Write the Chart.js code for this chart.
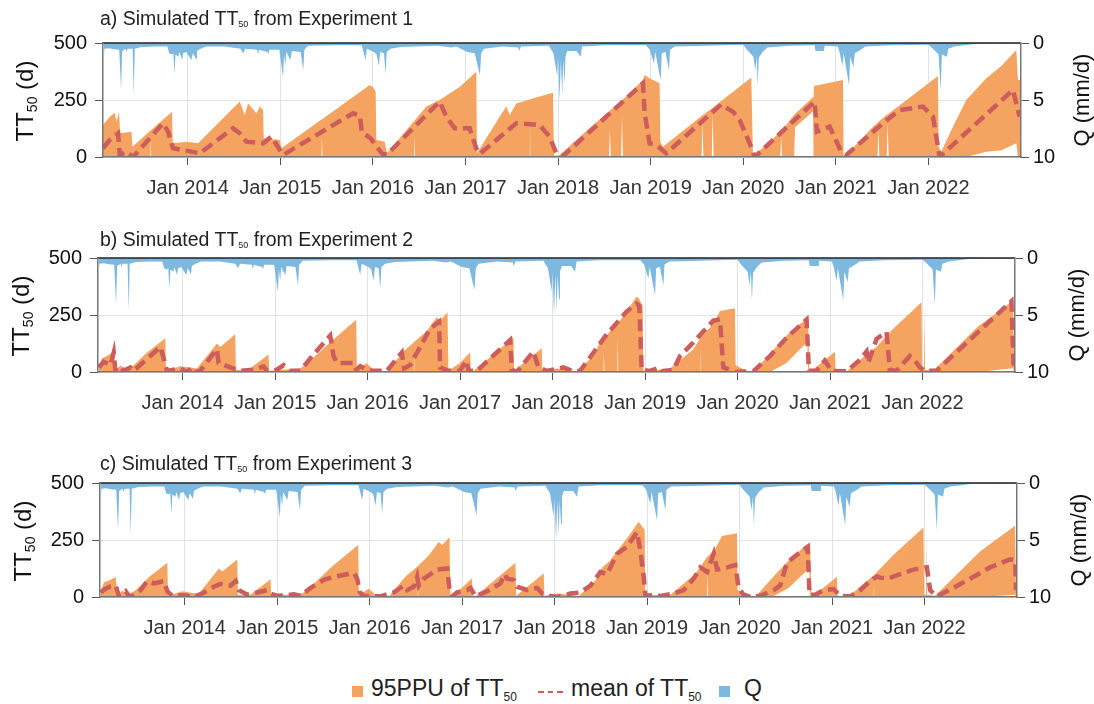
<!DOCTYPE html>
<html>
<head>
<meta charset="utf-8">
<script src="https://cdn.jsdelivr.net/npm/chart.js@4.4.1/dist/chart.umd.min.js"></script>
<style>
  body { margin: 0; background: #fff; font-family: "Liberation Sans", Arial, sans-serif; }
  #wrap { position: relative; width: 1094px; height: 704px; overflow: hidden; }
  canvas { position: absolute; left: 0; }
  .s { position: relative; line-height: 0; }
  .ttl { position: absolute; left: 100px; font-size: 19.5px; color: #222; white-space: nowrap; line-height: 22px; }
  .ttl .s { font-size: 9px; top: 2px; }
  .ax { position: absolute; color: #111; white-space: nowrap; line-height: 26px;
        transform: translate(-50%, -50%) rotate(-90deg); }
  .ax.tt { font-size: 24px; }
  .ax.tt .s { font-size: 14px; top: 4px; }
  .ax.q { font-size: 22px; }
  .lg { position: absolute; top: 677px; font-size: 23px; line-height: 23px; color: #222; white-space: nowrap; }
  .lg .s { font-size: 12px; top: 5px; }
  .sw { position: absolute; top: 686px; width: 11px; height: 11px; }
  .dash { position: absolute; top: 691px; width: 25px; height: 2px;
          background: repeating-linear-gradient(90deg, #CD5C5C 0 6px, transparent 6px 9.5px); }
</style>
</head>
<body>
<div id="wrap">
  <canvas id="pa" width="1094" height="200" style="top:0"></canvas>
  <canvas id="pb" width="1094" height="200" style="top:215px"></canvas>
  <canvas id="pc" width="1094" height="200" style="top:440px"></canvas>

  <div class="ttl" style="top:7px">a) Simulated TT<span class="s">50</span> from Experiment 1</div>
  <div class="ttl" style="top:228px">b) Simulated TT<span class="s">50</span> from Experiment 2</div>
  <div class="ttl" style="top:452px">c) Simulated TT<span class="s">50</span> from Experiment 3</div>

  <div class="ax tt" style="left:25px;top:101px">TT<span class="s">50</span> (d)</div>
  <div class="ax tt" style="left:21px;top:316px">TT<span class="s">50</span> (d)</div>
  <div class="ax tt" style="left:23px;top:541px">TT<span class="s">50</span> (d)</div>
  <div class="ax q" style="left:1082px;top:100px">Q (mm/d)</div>
  <div class="ax q" style="left:1077px;top:315px">Q (mm/d)</div>
  <div class="ax q" style="left:1079px;top:540px">Q (mm/d)</div>

  <div class="sw" style="left:352px;background:#F4A460"></div>
  <div class="lg" style="left:371px">95PPU of TT<span class="s">50</span></div>
  <div class="dash" style="left:538px"></div>
  <div class="lg" style="left:571px">mean of TT<span class="s">50</span></div>
  <div class="sw" style="left:719px;background:#7DB8E0"></div>
  <div class="lg" style="left:744px">Q</div>
</div>

<script>
// time in decimal years, TT50 in days, Q in mm/d
const yearTicks = [2014, 2015, 2016, 2017, 2018, 2019, 2020, 2021, 2022];

// observed discharge (same for every experiment)
const qT = [2013.093, 2013.100, 2013.150, 2013.200, 2013.260, 2013.280, 2013.292, 2013.330, 2013.340, 2013.350,
  2013.405, 2013.417, 2013.428, 2013.500, 2013.650, 2013.780, 2013.800, 2013.830, 2013.845, 2013.857,
  2013.868, 2013.900, 2013.910, 2013.940, 2013.950, 2013.985, 2014.040, 2014.055, 2014.090, 2014.100,
  2014.140, 2014.200, 2014.400, 2014.570, 2014.600, 2014.620, 2014.750, 2014.760, 2014.770, 2014.860,
  2014.870, 2014.880, 2014.990, 2015.030, 2015.040, 2015.055, 2015.065, 2015.110, 2015.125, 2015.220,
  2015.247, 2015.260, 2015.300, 2015.600, 2015.880, 2015.920, 2015.935, 2016.010, 2016.040, 2016.064,
  2016.080, 2016.120, 2016.136, 2016.150, 2016.190, 2016.300, 2016.700, 2016.850, 2016.900, 2017.020,
  2017.100, 2017.156, 2017.170, 2017.200, 2017.400, 2017.570, 2017.580, 2017.600, 2017.900, 2017.950,
  2017.990, 2018.000, 2018.016, 2018.030, 2018.045, 2018.055, 2018.070, 2018.080, 2018.100, 2018.200,
  2018.243, 2018.260, 2018.500, 2018.950, 2018.990, 2019.035, 2019.050, 2019.108, 2019.120, 2019.160,
  2019.198, 2019.210, 2019.260, 2019.600, 2020.000, 2020.040, 2020.110, 2020.130, 2020.145, 2020.155,
  2020.168, 2020.210, 2020.260, 2020.500, 2020.770, 2020.780, 2020.870, 2020.880, 2021.020, 2021.040,
  2021.070, 2021.085, 2021.143, 2021.155, 2021.190, 2021.205, 2021.270, 2021.320, 2021.600, 2022.000,
  2022.060, 2022.110, 2022.133, 2022.145, 2022.200, 2022.215, 2022.280, 2022.500, 2023.000];
const qVal = [1.5, 0.5, 0.45, 0.55, 0.6, 4.15, 0.7, 0.5, 0.8, 0.5,
  0.5, 4.6, 0.5, 0.35, 0.3, 0.3, 0.9, 1.0, 0.9, 2.7,
  1.0, 1.2, 0.8, 1.5, 0.9, 0.8, 1.5, 0.9, 1.4, 0.7,
  0.5, 0.3, 0.3, 0.5, 0.9, 0.5, 0.6, 1.0, 0.6, 0.8,
  1.0, 0.6, 0.6, 3.0, 1.0, 2.0, 0.8, 1.5, 0.7, 0.8,
  2.4, 0.6, 0.25, 0.2, 0.2, 1.5, 0.5, 0.8, 1.0, 2.0,
  0.8, 0.9, 2.7, 0.8, 0.5, 0.35, 0.25, 0.4, 0.3, 0.8,
  0.9, 2.8, 0.9, 0.5, 0.3, 0.4, 0.7, 0.3, 0.25, 0.9,
  2.9, 1.2, 5.0, 1.5, 4.6, 1.5, 3.6, 1.2, 0.7, 0.7,
  1.2, 0.3, 0.2, 0.2, 0.6, 1.8, 0.8, 3.3, 0.9, 0.8,
  2.4, 0.6, 0.3, 0.25, 0.15, 0.6, 1.2, 2.4, 1.2, 3.7,
  1.3, 0.8, 0.4, 0.25, 0.2, 0.7, 0.7, 0.25, 0.3, 0.8,
  2.0, 0.9, 3.7, 1.2, 2.1, 0.9, 0.6, 0.3, 0.2, 0.15,
  0.6, 1.0, 4.15, 1.0, 1.2, 0.5, 0.3, 0.08, 0.05];

// Experiment 1: 95PPU band (upper / lower) and mean
const aT = [2013.085, 2013.158, 2013.212, 2013.230, 2013.259, 2013.270, 2013.392, 2013.403, 2013.595, 2013.600,
  2013.605, 2013.831, 2013.838, 2013.986, 2014.112, 2014.562, 2014.616, 2014.652, 2014.742, 2014.778,
  2014.814, 2014.821, 2014.994, 2015.012, 2015.445, 2015.450, 2015.455, 2015.966, 2016.001, 2016.030,
  2016.037, 2016.127, 2016.152, 2016.445, 2016.450, 2016.455, 2016.577, 2016.721, 2016.940, 2017.117,
  2017.124, 2017.369, 2017.441, 2017.477, 2017.549, 2017.695, 2017.700, 2017.705, 2017.945, 2017.956,
  2018.017, 2018.377, 2018.550, 2018.560, 2018.570, 2018.680, 2018.690, 2018.700, 2018.917, 2018.935,
  2018.989, 2019.097, 2019.104, 2019.133, 2019.550, 2019.560, 2019.570, 2019.660, 2019.670, 2019.680,
  2019.745, 2020.087, 2020.105, 2020.123, 2020.400, 2020.410, 2020.420, 2020.550, 2020.560, 2020.753,
  2020.760, 2020.765, 2021.077, 2021.084, 2021.113, 2021.401, 2021.450, 2021.460, 2021.470, 2021.550,
  2021.560, 2021.570, 2022.103, 2022.110, 2022.139, 2022.265, 2022.409, 2022.625, 2022.790, 2022.949,
  2022.967, 2023.000];
const aHi = [140, 177, 194, 155, 196, 104, 111, 45, 115, 116,
  118, 199, 60, 67, 60, 243, 184, 235, 192, 221,
  206, 82, 75, 38, 164, 165, 167, 316, 306, 287,
  75, 67, 16, 158, 160, 162, 221, 250, 308, 374,
  16, 177, 221, 184, 235, 252, 253, 254, 282, 4,
  9, 140, 200, 204, 207, 245, 248, 252, 338, 360,
  345, 323, 67, 45, 180, 183, 186, 213, 216, 219,
  240, 349, 0, 9, 110, 115, 118, 185, 190, 262,
  262, 311, 338, 0, 9, 133, 150, 155, 158, 185,
  188, 190, 355, 45, 23, 133, 250, 345, 400, 469,
  338, 338];
const aLo = [0, 0, 0, 0, 0, 0, 0, 0, 0, 70,
  0, 0, 0, 0, 0, 0, 0, 0, 0, 0,
  0, 0, 0, 0, 0, 90, 0, 0, 0, 0,
  0, 0, 0, 0, 100, 0, 0, 0, 0, 0,
  0, 0, 0, 0, 0, 0, 140, 0, 0, 0,
  0, 0, 0, 120, 0, 0, 180, 0, 0, 0,
  0, 0, 0, 0, 0, 150, 0, 0, 190, 0,
  0, 0, 0, 0, 0, 90, 0, 0, 130, 200,
  0, 0, 0, 0, 0, 0, 0, 120, 0, 0,
  150, 0, 0, 0, 0, 0, 0, 23, 30, 60,
  0, 0];
const aMeanT = [2013.086, 2013.158, 2013.248, 2013.266, 2013.338, 2013.410, 2013.734, 2013.788, 2013.842, 2013.986,
  2014.130, 2014.490, 2014.562, 2014.634, 2014.814, 2014.904, 2015.030, 2015.786, 2015.860, 2015.880,
  2015.930, 2015.980, 2016.030, 2016.100, 2016.150, 2016.721, 2016.793, 2016.883, 2017.045, 2017.117,
  2017.153, 2017.549, 2017.801, 2017.909, 2017.981, 2018.053, 2018.917, 2018.935, 2018.989, 2019.061,
  2019.169, 2019.760, 2019.889, 2019.961, 2020.069, 2020.123, 2020.771, 2020.796, 2020.933, 2021.059,
  2021.113, 2021.509, 2021.689, 2021.941, 2022.049, 2022.121, 2022.913, 2022.985];
const aMean = [38, 75, 104, 9, 23, 0, 148, 111, 38, 28,
  16, 126, 104, 67, 60, 89, 9, 192, 180, 110,
  95, 80, 50, 15, 10, 243, 177, 126, 126, 38,
  13, 148, 140, 89, 16, 4, 323, 192, 60, 53,
  16, 230, 199, 162, 60, 0, 243, 111, 133, 23,
  9, 148, 206, 221, 177, 0, 294, 177];

// Experiment 2
const bT = [2013.093, 2013.128, 2013.182, 2013.255, 2013.272, 2013.327, 2013.381, 2013.435, 2013.471, 2013.615,
  2013.813, 2013.820, 2013.975, 2014.083, 2014.155, 2014.371, 2014.407, 2014.569, 2014.576, 2014.695,
  2014.929, 2014.936, 2015.272, 2015.380, 2015.596, 2015.877, 2015.884, 2015.990, 2016.064, 2016.208,
  2016.388, 2016.500, 2016.505, 2016.510, 2016.640, 2016.748, 2016.784, 2016.864, 2016.874, 2016.997,
  2017.108, 2017.116, 2017.144, 2017.577, 2017.584, 2017.883, 2017.890, 2018.050, 2018.150, 2018.261,
  2018.441, 2018.513, 2018.550, 2018.555, 2018.560, 2018.657, 2018.700, 2018.705, 2018.710, 2018.801,
  2018.909, 2018.938, 2018.974, 2018.981, 2019.100, 2019.234, 2019.522, 2019.600, 2019.605, 2019.610,
  2019.738, 2019.810, 2019.972, 2019.979, 2020.026, 2020.098, 2020.170, 2020.350, 2020.530, 2020.674,
  2020.754, 2020.764, 2020.775, 2020.800, 2021.053, 2021.060, 2021.179, 2021.400, 2021.405, 2021.410,
  2021.503, 2021.611, 2021.683, 2021.989, 2021.996, 2022.015, 2022.021, 2022.027, 2022.115, 2022.600,
  2022.979, 2022.990, 2023.000];
const bHi = [20, 60, 70, 90, 5, 30, 10, 20, 30, 85,
  148, 5, 25, 20, 15, 125, 110, 166, 10, 5,
  77, 5, 15, 50, 130, 229, 10, 38, 10, 2,
  90, 130, 133, 135, 180, 240, 225, 262, 5, 40,
  85, 5, 3, 151, 5, 104, 5, 15, 10, 3,
  70, 130, 140, 142, 145, 200, 210, 212, 215, 265,
  331, 320, 290, 5, 10, 3, 100, 150, 152, 155,
  210, 268, 280, 30, 20, 5, 0, 80, 160, 210,
  232, 238, 5, 5, 89, 5, 2, 80, 82, 84,
  110, 160, 190, 306, 10, 10, 280, 10, 5, 200,
  312, 10, 10];
const bLo = [0, 0, 0, 0, 0, 0, 0, 0, 0, 0,
  0, 0, 0, 0, 0, 0, 0, 0, 0, 0,
  0, 0, 0, 0, 0, 0, 0, 0, 0, 0,
  0, 0, 110, 0, 0, 0, 0, 0, 0, 0,
  0, 0, 0, 0, 0, 0, 0, 0, 0, 0,
  0, 0, 0, 90, 0, 0, 0, 150, 0, 0,
  0, 0, 0, 0, 0, 0, 0, 0, 110, 0,
  0, 0, 0, 0, 0, 0, 0, 0, 40, 100,
  130, 0, 0, 0, 0, 0, 0, 0, 60, 0,
  0, 0, 0, 0, 0, 0, 0, 0, 0, 0,
  16, 0, 0];
const bMeanT = [2013.093, 2013.146, 2013.219, 2013.255, 2013.272, 2013.327, 2013.363, 2013.435, 2013.471, 2013.759,
  2013.795, 2013.831, 2013.975, 2014.047, 2014.101, 2014.130, 2014.191, 2014.371, 2014.389, 2014.551,
  2014.620, 2014.767, 2014.875, 2014.910, 2015.019, 2015.092, 2015.160, 2015.272, 2015.380, 2015.596,
  2015.632, 2015.668, 2015.848, 2015.877, 2015.920, 2015.992, 2016.064, 2016.208, 2016.370, 2016.395,
  2016.460, 2016.676, 2016.773, 2016.784, 2016.874, 2016.997, 2017.072, 2017.090, 2017.181, 2017.541,
  2017.559, 2017.613, 2017.793, 2017.847, 2017.937, 2018.117, 2018.225, 2018.297, 2018.397, 2018.585,
  2018.801, 2018.909, 2018.938, 2018.963, 2019.053, 2019.162, 2019.180, 2019.306, 2019.378, 2019.522,
  2019.738, 2019.810, 2019.846, 2019.918, 2019.972, 2020.170, 2020.350, 2020.530, 2020.746, 2020.772,
  2020.854, 2020.944, 2021.017, 2021.179, 2021.323, 2021.395, 2021.413, 2021.503, 2021.611, 2021.647,
  2021.719, 2021.863, 2021.917, 2021.971, 2022.025, 2022.151, 2022.961, 2022.987];
const bMean = [20, 45, 30, 85, 10, 25, 5, 20, 5, 110,
  60, 5, 15, 0, 20, 0, 5, 100, 40, 15,
  5, 10, 25, 5, 10, 30, 5, 5, 60, 160,
  70, 40, 40, 10, 25, 10, 5, 5, 85, 15,
  30, 190, 220, 20, 5, 5, 50, 5, 5, 140,
  10, 0, 90, 20, 5, 20, 3, 5, 60, 165,
  265, 300, 290, 10, 5, 20, 3, 10, 70, 130,
  225, 230, 20, 10, 0, 3, 70, 150, 230, 5,
  5, 50, 5, 3, 53, 90, 40, 145, 175, 10,
  5, 70, 50, 20, 5, 5, 310, 5];

// Experiment 3
const cT = [2013.093, 2013.128, 2013.182, 2013.255, 2013.272, 2013.327, 2013.381, 2013.435, 2013.471, 2013.615,
  2013.813, 2013.820, 2013.975, 2014.083, 2014.155, 2014.371, 2014.407, 2014.569, 2014.576, 2014.695,
  2014.929, 2014.936, 2015.272, 2015.380, 2015.596, 2015.877, 2015.884, 2015.990, 2016.064, 2016.208,
  2016.388, 2016.520, 2016.525, 2016.530, 2016.640, 2016.748, 2016.784, 2016.864, 2016.874, 2016.997,
  2017.108, 2017.116, 2017.144, 2017.577, 2017.584, 2017.883, 2017.890, 2018.050, 2018.150, 2018.261,
  2018.441, 2018.513, 2018.600, 2018.605, 2018.610, 2018.801, 2018.909, 2018.974, 2018.981, 2019.100,
  2019.234, 2019.522, 2019.650, 2019.655, 2019.660, 2019.738, 2019.810, 2019.972, 2019.979, 2020.026,
  2020.098, 2020.170, 2020.350, 2020.530, 2020.674, 2020.754, 2020.764, 2020.775, 2020.800, 2021.053,
  2021.060, 2021.179, 2021.450, 2021.455, 2021.460, 2021.611, 2021.683, 2021.989, 2021.996, 2022.015,
  2022.021, 2022.027, 2022.115, 2022.600, 2022.979, 2022.990, 2023.000];
const cHi = [25, 65, 72, 88, 5, 28, 8, 22, 30, 88,
  150, 5, 25, 18, 15, 125, 112, 165, 10, 5,
  78, 5, 15, 52, 135, 228, 10, 36, 10, 2,
  90, 135, 137, 139, 182, 242, 228, 262, 5, 40,
  82, 5, 3, 150, 5, 103, 5, 15, 10, 3,
  72, 128, 160, 162, 165, 268, 330, 295, 5, 10,
  3, 102, 175, 177, 180, 212, 268, 280, 30, 20,
  5, 0, 82, 160, 212, 234, 238, 5, 5, 89,
  5, 2, 95, 97, 99, 162, 192, 305, 10, 10,
  270, 10, 5, 200, 313, 10, 10];
const cLo = [0, 0, 0, 0, 0, 0, 0, 0, 0, 0,
  0, 0, 0, 0, 0, 0, 0, 0, 0, 0,
  0, 0, 0, 0, 0, 0, 0, 0, 0, 0,
  0, 0, 60, 0, 0, 0, 0, 0, 0, 0,
  0, 0, 0, 0, 0, 0, 0, 0, 0, 0,
  0, 0, 0, 100, 0, 0, 0, 0, 0, 0,
  0, 0, 0, 120, 0, 0, 0, 0, 0, 0,
  0, 0, 0, 40, 95, 125, 0, 0, 0, 0,
  0, 0, 0, 70, 0, 0, 0, 0, 0, 0,
  0, 0, 0, 0, 10, 0, 0];
const cMeanT = [2013.093, 2013.129, 2013.201, 2013.255, 2013.291, 2013.363, 2013.399, 2013.453, 2013.525, 2013.597,
  2013.669, 2013.777, 2013.813, 2013.867, 2013.993, 2014.101, 2014.210, 2014.317, 2014.389, 2014.498,
  2014.552, 2014.588, 2014.678, 2014.786, 2014.894, 2014.930, 2015.002, 2015.110, 2015.182, 2015.254,
  2015.362, 2015.506, 2015.614, 2015.758, 2015.830, 2015.866, 2015.895, 2015.935, 2016.118, 2016.262,
  2016.370, 2016.406, 2016.478, 2016.514, 2016.532, 2016.586, 2016.731, 2016.839, 2016.868, 2016.893,
  2016.947, 2017.055, 2017.091, 2017.145, 2017.271, 2017.415, 2017.462, 2017.487, 2017.559, 2017.595,
  2017.703, 2017.811, 2017.865, 2017.955, 2018.028, 2018.172, 2018.280, 2018.388, 2018.496, 2018.568,
  2018.676, 2018.784, 2018.892, 2018.928, 2018.964, 2018.982, 2019.072, 2019.144, 2019.288, 2019.396,
  2019.504, 2019.576, 2019.649, 2019.721, 2019.757, 2019.865, 2019.954, 2019.990, 2020.044, 2020.116,
  2020.224, 2020.368, 2020.440, 2020.512, 2020.620, 2020.736, 2020.757, 2020.819, 2020.909, 2021.017,
  2021.089, 2021.197, 2021.305, 2021.413, 2021.485, 2021.521, 2021.593, 2021.737, 2021.881, 2022.025,
  2022.061, 2022.133, 2022.313, 2022.493, 2022.709, 2022.925, 2022.980, 2022.990];
const cMean = [20, 32, 47, 50, 3, 25, 3, 5, 30, 70,
  60, 70, 25, 5, 8, 0, 20, 45, 58, 50,
  70, 30, 10, 20, 30, 15, 5, 8, 12, 5,
  40, 75, 88, 100, 105, 80, 20, 5, 3, 20,
  50, 30, 45, 90, 50, 80, 120, 125, 20, 3,
  20, 30, 40, 3, 25, 60, 100, 80, 75, 45,
  30, 40, 15, 5, 0, 15, 20, 50, 110, 100,
  190, 220, 285, 200, 90, 5, 10, 5, 15, 30,
  80, 130, 110, 190, 120, 130, 140, 40, 10, 0,
  5, 30, 50, 150, 185, 220, 10, 10, 30, 35,
  5, 3, 30, 70, 90, 85, 80, 100, 120, 130,
  30, 3, 40, 80, 130, 165, 160, 30];

const FONT = '"Liberation Sans", Arial, sans-serif';
const ORANGE = '#F4A460', BLUE = '#7DB8E0', RED = '#CD5C5C';

function pts(t, v) {
  return t.map((x, i) => ({ x: x, y: v[i] }));
}

// dark frame line along the top of the plot area
const topLine = {
  id: 'topLine',
  afterDatasetsDraw(chart) {
    const { ctx, chartArea: a } = chart;
    ctx.save();
    ctx.strokeStyle = '#222';
    ctx.lineWidth = 1.5;
    ctx.beginPath();
    ctx.moveTo(a.left, a.top);
    ctx.lineTo(a.right, a.top);
    ctx.stroke();
    ctx.restore();
  }
};

function panel(id, left, right, t, hi, lo, meanT, mean) {
  const tickFont = { family: FONT, size: 20 };
  return new Chart(document.getElementById(id), {
    type: 'line',
    data: {
      datasets: [
        { label: 'mean', data: pts(meanT, mean), borderColor: RED, borderWidth: 4.5,
          borderDash: [12, 6], fill: false, yAxisID: 'y', order: 0 },
        { label: '95PPU upper', data: pts(t, hi), borderWidth: 0, borderColor: ORANGE,
          backgroundColor: ORANGE, fill: '+1', yAxisID: 'y', order: 1 },
        { label: '95PPU lower', data: pts(t, lo), borderWidth: 0, borderColor: ORANGE,
          fill: false, yAxisID: 'y', order: 2 },
        { label: 'Q', data: pts(qT, qVal), borderWidth: 0, borderColor: BLUE,
          backgroundColor: BLUE, fill: { value: 0 }, yAxisID: 'q', order: 3 }
      ]
    },
    options: {
      responsive: false,
      animation: false,
      layout: { padding: { top: 43, left: 0, right: 0, bottom: 0 } },
      elements: { point: { radius: 0 }, line: { tension: 0 } },
      plugins: { legend: { display: false }, tooltip: { enabled: false } },
      scales: {
        x: {
          type: 'linear', min: 2013.085, max: 2023.0,
          afterBuildTicks: s => { s.ticks = yearTicks.map(v => ({ value: v })); },
          afterFit: s => { s.height = 43; },
          ticks: { color: '#333', font: tickFont, maxRotation: 0, autoSkip: false, padding: 11,
                   callback: v => 'Jan ' + v },
          grid: { color: '#e2e2e2', tickColor: '#555', tickLength: 8 },
          border: { color: '#777', width: 1.5, z: 1 }
        },
        y: {
          position: 'left', min: 0, max: 500,
          afterBuildTicks: s => { s.ticks = [0, 250, 500].map(v => ({ value: v })); },
          afterFit: s => { s.width = left; },
          ticks: { color: '#111', font: tickFont, padding: 8 },
          grid: { color: '#e2e2e2', tickColor: '#555', tickLength: 8 },
          border: { color: '#777', width: 1.5, z: 1 }
        },
        q: {
          position: 'right', min: 0, max: 10, reverse: true,
          afterBuildTicks: s => { s.ticks = [0, 5, 10].map(v => ({ value: v })); },
          afterFit: s => { s.width = 1094 - right; },
          ticks: { color: '#111', font: tickFont, padding: 4 },
          grid: { drawOnChartArea: false, tickColor: '#555', tickLength: 8 },
          border: { color: '#777', width: 1.5, z: 1 }
        }
      }
    },
    plugins: [topLine]
  });
}

panel('pa', 103, 1021, aT, aHi, aLo, aMeanT, aMean);
panel('pb', 98, 1015, bT, bHi, bLo, bMeanT, bMean);
panel('pc', 100, 1017, cT, cHi, cLo, cMeanT, cMean);
</script>
</body>
</html>
